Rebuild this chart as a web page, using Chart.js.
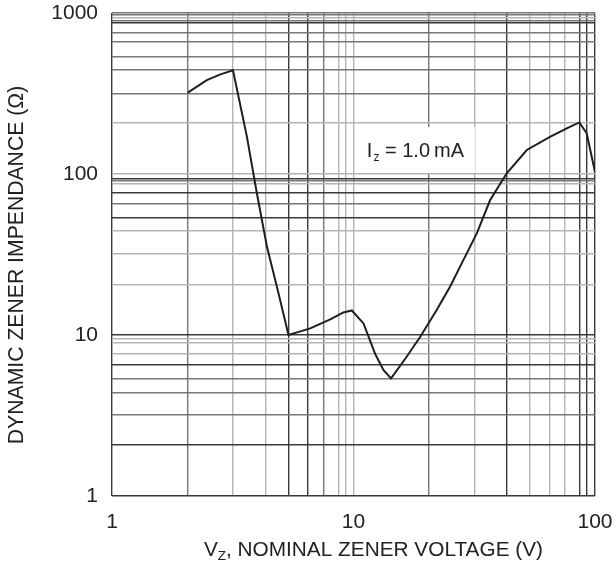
<!DOCTYPE html>
<html>
<head>
<meta charset="utf-8">
<script src="https://cdn.jsdelivr.net/npm/chart.js@4.4.1/dist/chart.umd.min.js"></script>
<style>
  html, body { margin: 0; padding: 0; background: #fff; }
  #box { width: 616px; height: 565px; }
</style>
</head>
<body>
<div id="box"><canvas id="grafico"></canvas></div>
<script>
// nominal zener voltage (V) and dynamic impedance (ohm)
const voltage = [2.06, 2.47, 2.81, 3.17, 3.62, 3.98, 4.38, 4.89, 5.38, 6.62, 8.01, 9.08, 9.84,
  11.0, 12.3, 13.3, 14.3, 16.6, 18.9, 22.1, 25.1, 28.5, 32.4, 36.8, 43.1, 52.2, 65.1, 76.4, 86.1, 92.4, 100];
const impedance = [320, 383, 416, 440, 170, 75.9, 35.4, 18.2, 10, 11.0, 12.5, 13.8, 14.2,
  11.8, 7.62, 6.06, 5.38, 7.33, 9.76, 14.3, 19.95, 29.2, 42.8, 68.9, 101, 141, 170, 192, 209, 179, 103];

// grid lines of the datasheet paper (not an even log grid)
const xGrid = [1, 2.06, 3.17, 4.34, 5.39, 6.49, 7.56, 8.68, 9.31, 10, 20.5, 31.9, 43.2, 53.5, 64.9, 74.9, 86.7, 92.7, 100];
const yGrid = [1, 2.07, 3.2, 4.38, 5.38, 6.51, 7.7, 8.96, 9.54, 10, 20.6, 31.8, 44.3, 53.8, 65.1, 76.9, 87.5, 90.9, 94,
  100, 208, 317, 443, 533, 663, 759, 871, 901, 935, 972, 1000];
const xLabels = [1, 10, 100];
const yLabels = [1, 10, 100, 1000];

const textColor = '#222';
const fonte = "'Liberation Sans', Arial, sans-serif";

// shade of each grid line
const darkX = [1, 5.39, 6.49, 43.2, 86.7, 92.7, 100];
const midX = [2.06, 7.56, 20.5];
const darkY = [1, 2.07, 6.51, 10, 53.8, 76.9, 94, 871];
const midY = [3.2, 4.38, 5.38, 65.1, 90.9, 317, 443, 533, 663, 759, 901, 972, 1000];

function shade(v, dark, mid) {
  if (dark.includes(v)) return '#3a3a3a';
  if (mid.includes(v)) return '#777';
  return '#b4b4b4';
}

const points = voltage.map((v, i) => ({ x: v, y: impedance[i] }));

// white box with the test current, and both axis titles
const extras = {
  id: 'extras',
  beforeDatasetsDraw(chart) {
    const { ctx, scales } = chart;
    const x = scales.x.getPixelForValue(11.36);
    const y = scales.y.getPixelForValue(141);
    ctx.save();
    ctx.fillStyle = '#fff';
    ctx.fillRect(x - 10, y - 23, 118, 46);
    ctx.fillStyle = textColor;
    ctx.textBaseline = 'alphabetic';
    ctx.font = '20px ' + fonte;
    ctx.fillText('I', x, y + 7);
    let w = ctx.measureText('I').width;
    ctx.font = '12px ' + fonte;
    ctx.fillText('z', x + w + 1, y + 11);
    w += ctx.measureText('z').width + 1;
    ctx.font = '20px ' + fonte;
    ctx.fillText(' = 1.0\u2009mA', x + w, y + 7);
    ctx.restore();
  },
  afterDraw(chart) {
    const { ctx } = chart;
    ctx.save();
    ctx.fillStyle = textColor;
    ctx.textBaseline = 'alphabetic';

    // x title, with the subscript Z
    const by = 556;
    const a = 'V', c = ', NOMINAL ZENER VOLTAGE (V)';
    ctx.font = '20.8px ' + fonte;
    const wa = ctx.measureText(a).width;
    const wc = ctx.measureText(c).width;
    ctx.font = '13.5px ' + fonte;
    const wb = ctx.measureText('Z').width;
    const x = 543 - (wa + wb + wc);
    ctx.font = '20.8px ' + fonte;
    ctx.fillText(a, x, by);
    ctx.font = '13.5px ' + fonte;
    ctx.fillText('Z', x + wa, by + 4);
    ctx.font = '20.8px ' + fonte;
    ctx.fillText(c, x + wa + wb, by);

    // y title, turned
    ctx.translate(17.5, 265);
    ctx.rotate(-Math.PI / 2);
    ctx.textAlign = 'center';
    ctx.textBaseline = 'middle';
    ctx.font = '21.2px ' + fonte;
    ctx.fillText('DYNAMIC ZENER IMPENDANCE (\u03A9)', 0, 0);
    ctx.restore();
  }
};

new Chart(document.getElementById('grafico'), {
  type: 'line',
  data: {
    datasets: [{
      data: points,
      borderColor: '#1e1e1e',
      borderWidth: 2,
      pointRadius: 0,
      tension: 0,
      fill: false
    }]
  },
  options: {
    responsive: true,
    maintainAspectRatio: false,
    animation: false,
    layout: { padding: { left: 0, right: 21, top: 13, bottom: 0 } },
    plugins: {
      legend: { display: false },
      tooltip: { enabled: false }
    },
    scales: {
      x: {
        type: 'logarithmic',
        min: 1,
        max: 100,
        afterBuildTicks: (scale) => { scale.ticks = xGrid.map(v => ({ value: v })); },
        afterFit: (scale) => { scale.height = 69; },
        border: { display: false },
        grid: {
          drawTicks: true,
          tickLength: 14,
          tickColor: 'rgba(0,0,0,0)',
          color: (ctx) => shade(ctx.tick.value, darkX, midX),
          lineWidth: 1.4
        },
        ticks: {
          autoSkip: false,
          maxRotation: 0,
          padding: 0,
          color: textColor,
          font: { family: fonte, size: 21 },
          callback: (value) => xLabels.includes(value) ? String(value) : ''
        }
      },
      y: {
        type: 'logarithmic',
        min: 1,
        max: 1000,
        afterBuildTicks: (scale) => { scale.ticks = yGrid.map(v => ({ value: v })); },
        afterFit: (scale) => { scale.width = 112; },
        border: { display: false },
        grid: {
          drawTicks: true,
          tickLength: 14,
          tickColor: 'rgba(0,0,0,0)',
          color: (ctx) => shade(ctx.tick.value, darkY, midY),
          lineWidth: 1.4
        },
        ticks: {
          autoSkip: false,
          padding: 0,
          color: textColor,
          font: { family: fonte, size: 21 },
          callback: (value) => yLabels.includes(value) ? String(value) : ''
        }
      }
    }
  },
  plugins: [extras]
});
</script>
</body>
</html>
